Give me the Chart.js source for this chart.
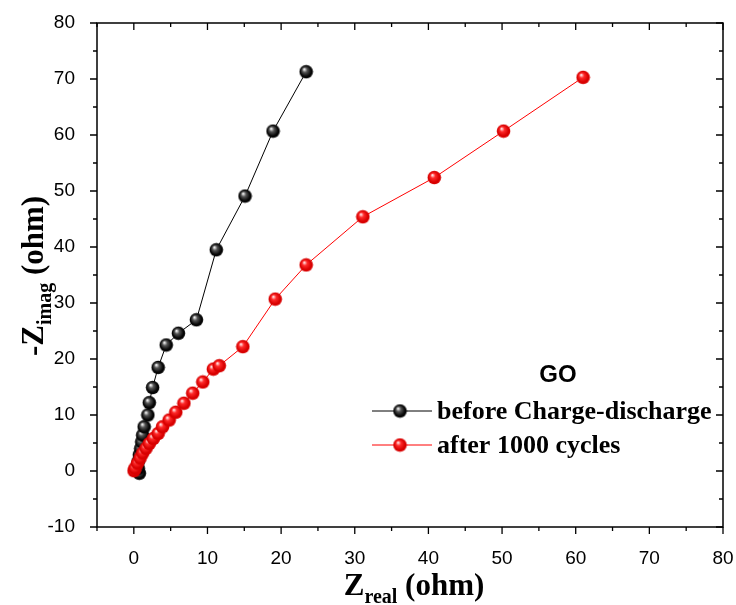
<!DOCTYPE html>
<html>
<head>
<meta charset="utf-8">
<script src="https://cdn.jsdelivr.net/npm/chart.js@4"></script>
<style>
  html, body { margin: 0; padding: 0; background: #fff; }
  #wrap { width: 736px; height: 605px; }
</style>
</head>
<body>
<div id="wrap"><canvas id="c" width="736" height="605"></canvas></div>
<script>
// data (ohm)
const beforeX = [0.75, 0.6, 0.6, 0.75, 0.94, 1.07, 1.2, 1.4, 1.9, 2.1, 2.55, 3.3, 4.4, 6.05, 8.5, 11.2, 15.1, 18.9, 23.4];
const beforeY = [-0.4, 0.5, 1.7, 2.9, 4.0, 5.2, 6.4, 7.9, 10.0, 12.2, 14.9, 18.5, 22.5, 24.6, 27.0, 39.5, 49.1, 60.7, 71.3];

const afterX = [0.03, 0.16, 0.5, 0.85, 1.2, 1.66, 2.1, 2.65, 3.3, 3.9, 4.8, 5.7, 6.8, 8.0, 9.36, 10.8, 11.6, 14.8, 19.2, 23.4, 31.1, 40.8, 50.2, 61.0];
const afterY = [0.05, 0.5, 1.4, 2.3, 3.2, 4.05, 4.9, 5.8, 6.7, 7.9, 9.1, 10.5, 12.1, 13.9, 15.9, 18.2, 18.8, 22.2, 30.7, 36.8, 45.4, 52.4, 60.7, 70.3];

const xTickValues = [0, 10, 20, 30, 40, 50, 60, 70, 80];
const yTickValues = [-10, 0, 10, 20, 30, 40, 50, 60, 70, 80];
const seriesNames = ['before Charge-discharge', 'after 1000 cycles'];
const legendTitle = 'GO';

// shiny ball marker, like the Origin sphere symbol
function makeBall(dark, mid, light) {
    const c = document.createElement('canvas');
    c.width = 15; c.height = 15;
    const g = c.getContext('2d');
    const grad = g.createRadialGradient(5.5, 5, 0.5, 7.5, 7.5, 7);
    grad.addColorStop(0, light);
    grad.addColorStop(0.3, mid);
    grad.addColorStop(0.75, dark);
    grad.addColorStop(1, dark);
    g.fillStyle = grad;
    g.beginPath();
    g.arc(7.5, 7.5, 6.8, 0, Math.PI * 2);
    g.fill();
    return c;
}
const blackBall = makeBall('#050505', '#555555', '#f0f0f0');
const redBall = makeBall('#d80000', '#ff2a2a', '#ffe0e0');

const toPoints = (xs, ys) => xs.map((x, i) => ({ x: x, y: ys[i] }));

const tickFont = { family: 'Liberation Sans', size: 19 };

const framePlugin = {
    id: 'frame',
    afterDraw(chart) {
        const ctx = chart.ctx;
        const a = chart.chartArea;
        const xs = chart.scales.x, ys = chart.scales.y;
        ctx.save();
        ctx.strokeStyle = '#000';
        ctx.lineWidth = 1.5;
        ctx.strokeRect(a.left, a.top, a.right - a.left, a.bottom - a.top);

        // ticks: bottom/left outward, top/right inward
        ctx.lineWidth = 1.3;
        ctx.beginPath();
        for (let v = -5; v <= 80; v += 5) {
            const px = xs.getPixelForValue(v);
            const len = v % 10 === 0 ? 7 : 4;
            ctx.moveTo(px, a.bottom); ctx.lineTo(px, a.bottom + len);
            ctx.moveTo(px, a.top); ctx.lineTo(px, a.top + len);
        }
        for (let v = -10; v <= 80; v += 5) {
            const py = ys.getPixelForValue(v);
            const len = v % 10 === 0 ? 7 : 4;
            ctx.moveTo(a.left, py); ctx.lineTo(a.left - len, py);
            ctx.moveTo(a.right, py); ctx.lineTo(a.right - len, py);
        }
        ctx.stroke();

        // axis titles with subscripts
        ctx.fillStyle = '#000';
        ctx.textBaseline = 'alphabetic';
        const big = 'bold 31px "Liberation Serif"';
        const small = 'bold 20px "Liberation Serif"';
        function subTitle(main, sub, rest) {
            ctx.font = big; const w1 = ctx.measureText(main).width;
            const w3 = ctx.measureText(rest).width;
            ctx.font = small; const w2 = ctx.measureText(sub).width;
            const total = w1 + w2 + w3;
            let x = -total / 2;
            ctx.font = big; ctx.textAlign = 'left';
            ctx.fillText(main, x, 0); x += w1;
            ctx.font = small; ctx.fillText(sub, x, 8); x += w2;
            ctx.font = big; ctx.fillText(rest, x, 0);
        }
        ctx.save();
        ctx.translate(414, 595);
        subTitle('Z', 'real', ' (ohm)');
        ctx.restore();
        ctx.save();
        ctx.translate(43, 276);
        ctx.rotate(-Math.PI / 2);
        subTitle('-Z', 'imag', ' (ohm)');
        ctx.restore();

        // legend
        ctx.font = 'bold 24px "Liberation Sans"';
        ctx.textAlign = 'center';
        ctx.fillText(legendTitle, 558, 382);
        const rows = [
            { y: 411, color: '#000', ball: blackBall },
            { y: 445, color: '#ff0000', ball: redBall },
        ];
        ctx.font = 'bold 26px "Liberation Serif"';
        ctx.textAlign = 'left';
        ctx.textBaseline = 'middle';
        rows.forEach((r, i) => {
            ctx.strokeStyle = r.color;
            ctx.lineWidth = 1;
            ctx.beginPath();
            ctx.moveTo(372, r.y); ctx.lineTo(432, r.y);
            ctx.stroke();
            ctx.drawImage(r.ball, 400 - 7.5, r.y - 7.5);
            ctx.fillStyle = '#000';
            ctx.fillText(seriesNames[i], 437, r.y + 1);
        });
        ctx.restore();
    }
};

new Chart(document.getElementById('c'), {
    type: 'scatter',
    data: {
        datasets: [
            {
                label: seriesNames[0],
                data: toPoints(beforeX, beforeY),
                showLine: true,
                borderColor: '#000',
                borderWidth: 1,
                pointStyle: blackBall,
                pointRadius: 7,
                order: 1,
            },
            {
                label: seriesNames[1],
                data: toPoints(afterX, afterY),
                showLine: true,
                borderColor: '#ff0000',
                borderWidth: 1,
                pointStyle: redBall,
                pointRadius: 7,
                order: 0,
            },
        ],
    },
    options: {
        responsive: false,
        animation: false,
        layout: { padding: { top: 23, right: 13, left: 0, bottom: 0 } },
        plugins: {
            legend: { display: false },
            tooltip: { enabled: false },
        },
        scales: {
            x: {
                type: 'linear',
                min: -5,
                max: 80,
                grid: { display: false },
                border: { display: false },
                ticks: { font: tickFont, color: '#000', padding: 12, maxRotation: 0 },
                afterBuildTicks: (scale) => { scale.ticks = xTickValues.map(v => ({ value: v })); },
                afterFit: (scale) => {
                    scale.height = 78;
                    scale.paddingRight = 0;
                    scale.paddingLeft = 0;
                },
            },
            y: {
                type: 'linear',
                min: -10,
                max: 80,
                grid: { display: false },
                border: { display: false },
                ticks: { font: tickFont, color: '#000', padding: 14 },
                afterBuildTicks: (scale) => { scale.ticks = yTickValues.map(v => ({ value: v })); },
                afterFit: (scale) => {
                    scale.width = 97;
                    scale.paddingTop = 0;
                    scale.paddingBottom = 0;
                },
            },
        },
    },
    plugins: [framePlugin],
});
</script>
</body>
</html>
